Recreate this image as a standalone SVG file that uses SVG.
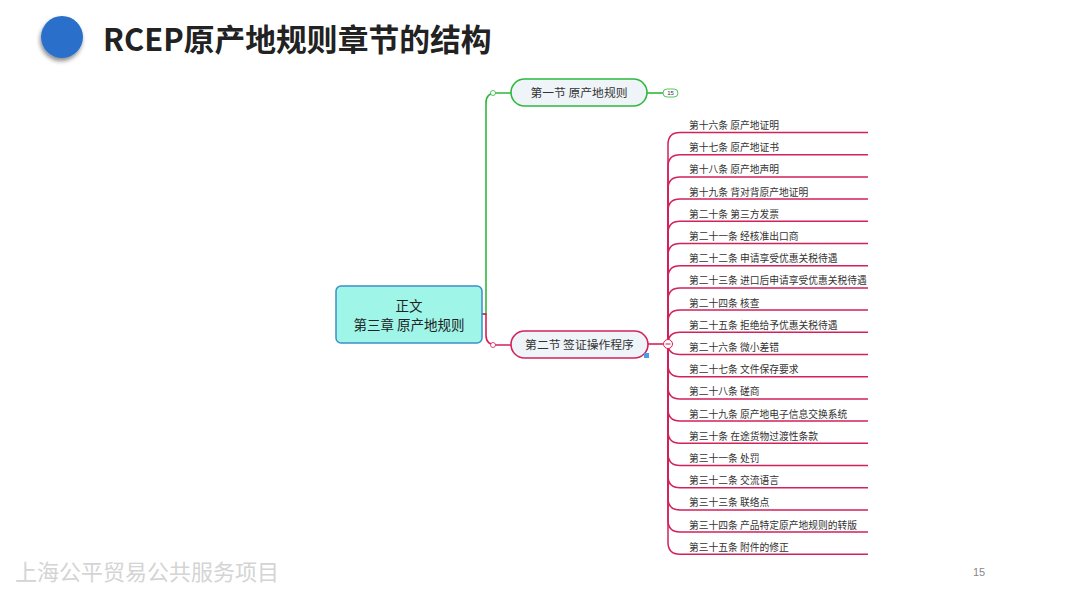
<svg xmlns="http://www.w3.org/2000/svg" width="1067" height="600" viewBox="0 0 1067 600">
<defs>
<filter id="sh" x="-50%" y="-50%" width="200%" height="200%">
<feDropShadow dx="-1" dy="3" stdDeviation="2" flood-color="#000" flood-opacity="0.45"/>
</filter>
<style>
.t{font-family:"Noto Sans CJK SC","Liberation Sans",sans-serif;}
.leaf{font-size:9.75px;fill:#333;}
.br{fill:none;stroke:#d4215a;stroke-width:1.5;}
.g{fill:none;stroke:#2db83d;stroke-width:1.6;}
.r{fill:none;stroke:#d4215a;stroke-width:1.6;}
</style>
</defs>
<rect width="1067" height="600" fill="#fff"/>
<circle cx="62" cy="37" r="21" fill="#2a6fca" filter="url(#sh)"/>
<text class="t" x="103" y="51" font-size="30.8" font-weight="bold" fill="#222">RCEP原产地规则章节的结构</text>
<text class="t" x="15" y="580" font-size="22" fill="#d4d4d4">上海公平贸易公共服务项目</text>
<text x="973" y="576" font-family="Liberation Sans,sans-serif" font-size="11" fill="#888">15</text>

<g id="connectors">
<path class="g" d="M482,314 H486 V103 Q486,93 496,93 H511"/>
<path class="r" d="M482,314 H486 V335 Q486,345 496,345 H511"/>
<circle cx="493" cy="93" r="2.5" fill="#fff" stroke="#2db83d" stroke-width="0.8"/>
<circle cx="493" cy="345" r="2.5" fill="#fff" stroke="#d4215a" stroke-width="0.8"/>
<path class="g" d="M647,93 H664"/>
<path class="r" d="M648,344 H663"/>
<path class="br" d="M668,344 V144.5 Q668,132.5 680,132.5 H868"/>
<path class="br" d="M668,344 V166.7 Q668,154.7 680,154.7 H868"/>
<path class="br" d="M668,344 V188.9 Q668,176.9 680,176.9 H868"/>
<path class="br" d="M668,344 V211.1 Q668,199.1 680,199.1 H868"/>
<path class="br" d="M668,344 V233.3 Q668,221.3 680,221.3 H868"/>
<path class="br" d="M668,344 V255.5 Q668,243.5 680,243.5 H868"/>
<path class="br" d="M668,344 V277.7 Q668,265.7 680,265.7 H868"/>
<path class="br" d="M668,344 V299.9 Q668,287.9 680,287.9 H868"/>
<path class="br" d="M668,344 V322.1 Q668,310.1 680,310.1 H868"/>
<path class="br" d="M668,344 Q668,332.3 680,332.3 H868"/>
<path class="br" d="M668,344 Q668,354.5 680,354.5 H868"/>
<path class="br" d="M668,344 V364.7 Q668,376.7 680,376.7 H868"/>
<path class="br" d="M668,344 V386.9 Q668,398.9 680,398.9 H868"/>
<path class="br" d="M668,344 V409.1 Q668,421.1 680,421.1 H868"/>
<path class="br" d="M668,344 V431.3 Q668,443.3 680,443.3 H868"/>
<path class="br" d="M668,344 V453.5 Q668,465.5 680,465.5 H868"/>
<path class="br" d="M668,344 V475.7 Q668,487.7 680,487.7 H868"/>
<path class="br" d="M668,344 V497.9 Q668,509.9 680,509.9 H868"/>
<path class="br" d="M668,344 V520.1 Q668,532.1 680,532.1 H868"/>
<path class="br" d="M668,344 V542.3 Q668,554.3 680,554.3 H868"/>
</g>

<g id="root">
<rect x="336" y="286" width="146" height="57" rx="5" fill="#9ff5e8" stroke="#3d8fc9" stroke-width="1.5"/>
<text class="t" x="409" y="311" font-size="13.5" fill="#222" text-anchor="middle">正文</text>
<text class="t" x="409" y="330" font-size="13.5" fill="#222" text-anchor="middle">第三章 原产地规则</text>
</g>

<g id="sec1">
<rect x="511" y="79" width="136" height="27" rx="13.5" fill="#eef4f8" stroke="#2db83d" stroke-width="1.6"/>
<text class="t" x="579" y="97" font-size="11.8" fill="#333" text-anchor="middle">第一节 原产地规则</text>
<rect x="663" y="89" width="15" height="8" rx="4" fill="#fff" stroke="#2db83d" stroke-width="0.8"/>
<text x="670.5" y="95.2" font-family="Liberation Sans,sans-serif" font-size="6" fill="#333" text-anchor="middle">15</text>
</g>

<g id="sec2">
<rect x="511" y="331" width="137" height="27" rx="13.5" fill="#eef4f8" stroke="#d4215a" stroke-width="1.6"/>
<text class="t" x="579.5" y="349" font-size="11.8" fill="#333" text-anchor="middle">第二节 签证操作程序</text>
<rect x="644" y="353" width="5" height="5" fill="#4aa0e8"/>
<circle cx="668" cy="344" r="4.5" fill="#fff" stroke="#d4215a" stroke-width="1"/>
<path d="M665.5,344 H670.5" stroke="#d4215a" stroke-width="1"/>
</g>

<g id="leaves" class="t leaf">
<text x="689" y="129">第十六条 原产地证明</text>
<text x="689" y="151.2">第十七条 原产地证书</text>
<text x="689" y="173.4">第十八条 原产地声明</text>
<text x="689" y="195.6">第十九条 背对背原产地证明</text>
<text x="689" y="217.8">第二十条 第三方发票</text>
<text x="689" y="240">第二十一条 经核准出口商</text>
<text x="689" y="262.2">第二十二条 申请享受优惠关税待遇</text>
<text x="689" y="284.4">第二十三条 进口后申请享受优惠关税待遇</text>
<text x="689" y="306.6">第二十四条 核查</text>
<text x="689" y="328.8">第二十五条 拒绝给予优惠关税待遇</text>
<text x="689" y="351">第二十六条 微小差错</text>
<text x="689" y="373.2">第二十七条 文件保存要求</text>
<text x="689" y="395.4">第二十八条 磋商</text>
<text x="689" y="417.6">第二十九条 原产地电子信息交换系统</text>
<text x="689" y="439.8">第三十条 在途货物过渡性条款</text>
<text x="689" y="462">第三十一条 处罚</text>
<text x="689" y="484.2">第三十二条 交流语言</text>
<text x="689" y="506.4">第三十三条 联络点</text>
<text x="689" y="528.6">第三十四条 产品特定原产地规则的转版</text>
<text x="689" y="550.8">第三十五条 附件的修正</text>
</g>
</svg>
